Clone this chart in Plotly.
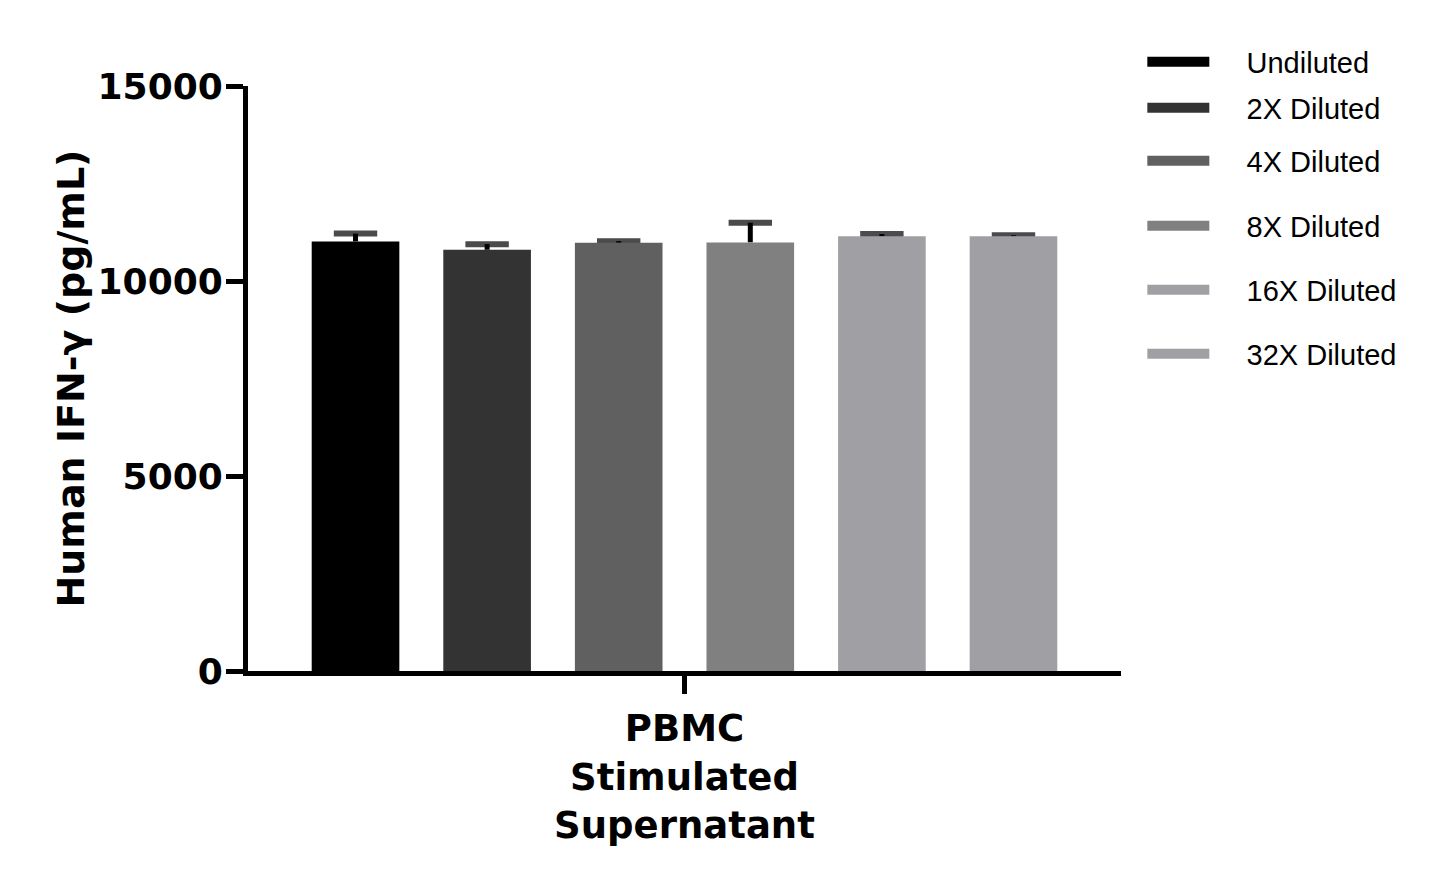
import plotly.graph_objects as go

# Datos
categoria = ["PBMC<br>Stimulated<br>Supernatant"]
diluciones = ["Undiluted", "2X Diluted", "4X Diluted", "8X Diluted", "16X Diluted", "32X Diluted"]
medias = [11015, 10800, 10980, 10990, 11150, 11150]
errores = [200, 145, 42, 505, 56, 22]
colores = ["#000000", "#333333", "#606060", "#808080", "#a0a0a4", "#a0a0a4"]
ticks_y = [0, 5000, 10000, 15000]

# Posición vertical (en píxeles) de cada entrada de la leyenda, como en el original
leyenda_px = [62, 108, 161, 226, 290, 354]

fig = go.Figure()

# Barras de error solo hacia arriba (forma de "T"), detrás de las barras
for i, (nombre, valor, err) in enumerate(zip(diluciones, medias, errores)):
    fig.add_trace(go.Scatter(
        x=categoria * 2, y=[valor, valor + err], mode='lines+markers',
        line=dict(color='black', width=5),
        marker=dict(symbol='line-ew', size=[0, 31], color='black',
                    line=dict(color='black', width=6)),
        offsetgroup=str(i), showlegend=False, hoverinfo='skip',
    ))

# Barras (en un eje superpuesto para quedar encima de las barras de error)
for i, (nombre, valor, color) in enumerate(zip(diluciones, medias, colores)):
    fig.add_trace(go.Bar(
        x=categoria, y=[valor], name=nombre, marker_color=color,
        marker_line_width=0, showlegend=False,
        offsetgroup=str(i), xaxis='x2',
    ))

# Entradas de leyenda en forma de rectángulo alargado, una leyenda por entrada
leyendas = {}
for i, (nombre, color, ypx) in enumerate(zip(diluciones, colores, leyenda_px)):
    clave = 'legend' if i == 0 else 'legend%d' % (i + 1)
    fig.add_trace(go.Scatter(
        x=[None], y=[None], mode='lines', name='\u00a0\u00a0\u00a0\u00a0' + nombre,
        line=dict(color=color, width=12), xaxis='x2', legend=clave,
    ))
    leyendas[clave] = dict(
        xref='container', yref='container', x=0.785, y=1 - (ypx - 8) / 895,
        xanchor='left', yanchor='middle',
        font=dict(family='Liberation Sans', size=29), itemwidth=62,
        bgcolor='rgba(0,0,0,0)',
    )

fig.update_layout(
    width=1445, height=895,
    barmode='group', bargap=0.0956, bargroupgap=0.334,
    scattermode='group', scattergap=0.0956,
    plot_bgcolor='white', paper_bgcolor='white',
    margin=dict(l=240, r=332, t=78, b=232),
    font=dict(family='DejaVu Sans', color='black'),
    yaxis=dict(
        title=dict(text='<b>Human IFN-γ (pg/mL)</b>', font=dict(size=38), standoff=3),
        range=[0, 15000], tickvals=ticks_y,
        ticktext=['<b>%d</b>' % v for v in ticks_y],
        tickfont=dict(size=36, family='DejaVu Sans'),
        ticklabelstandoff=-4,
        showline=True, linewidth=5, linecolor='black',
        ticks='outside', ticklen=17, tickwidth=5, tickcolor='black',
        showgrid=False, zeroline=False,
    ),
    xaxis=dict(
        showline=True, linewidth=5, linecolor='black',
        ticks='outside', ticklen=18, tickwidth=5, tickcolor='black',
        tickvals=categoria, ticktext=['<b>' + c + '</b>' for c in categoria],
        tickfont=dict(size=37, family='DejaVu Sans'),
        ticklabelstandoff=3,
        showgrid=False,
    ),
    xaxis2=dict(overlaying='x', visible=False),
    **leyendas,
)

fig.write_html("out.html")
